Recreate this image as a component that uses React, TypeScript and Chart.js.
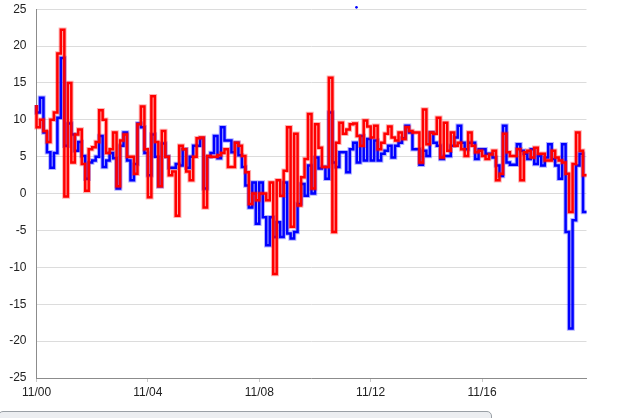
import { useEffect, useRef } from "react"
import { Chart, registerables } from "chart.js"

Chart.register(...registerables)

// one reading every 3 hours, starting at 11/00
const STEP_DAYS = 1 / 8

const blueValues = [
  12, 11, 13, 8.3, 5.6, 3.5, 5.5, 10.3, 18.4, 6.5, 9.5, 8, 5.8, 7, 5.1, 2,
  4.2, 4.5, 5, 7.8, 3.6, 4.5, 5.5, 4.8, 0.7, 6.5, 8.3, 4.5, 1.8, 4, 9.5, 9,
  5.5, 2.5, 8, 5, 1, 6.8, 5, 3.5, 3.5, 4, 3.8, 6, 3.5, 5, 6.5, 6.5,
  7.5, 0.7, 5, 5.5, 7.8, 4.8, 9, 7.2, 7.2, 5.6, 6.9, 5.2, 3.6, 1.1, -1.9, 1.5,
  -4.1, 1.5, -3.2, -7, -3.2, -5.9, -3.9, -5.9, 1.5, -5.4, -6.1, -5.2, -1.4, 1.3, -0.3, 3.8,
  0, 4.9, 3.4, 3.6, 2, 11, 4.2, 3.6, 5.6, 5.6, 2.9, 6, 6.9, 4.2, 7.8, 4.5,
  7.4, 4.5, 7.2, 4.5, 5.4, 5.8, 6.5, 4.9, 6.5, 6.9, 7.5, 9.2, 8.3, 6, 6, 3.9,
  5.8, 5.1, 8.3, 6.9, 6.5, 4.7, 5.1, 5.1, 6.5, 7.6, 9.2, 6.9, 6, 6.9, 6.9, 4.7,
  6, 6, 5.4, 5.4, 4.9, 3.8, 2.4, 9.2, 4.2, 3.9, 3.9, 6.7, 5.8, 5.4, 4.7, 6,
  4, 5.1, 3.8, 4.9, 6.7, 4.7, 3.8, 2, 6.7, -5.2, -18.3, -3.6, 3.8, 5.4, -2.5,
]

const redValues = [
  12, 9, 10, 8.5, 7, 10, 11, 19, 22.2, -0.4, 15, 4.2, 8, 8.7, 4, 0.4,
  6, 6.3, 7, 11.3, 10, 5.5, 6, 8.3, 1, 7.2, 8, 5, 5, 2.7, 9.4, 11.8,
  6, -0.5, 13.2, 7, 1, 8.5, 5, 2.5, 3, -3, 6.5, 6, 3, 1.8, 5, 7.5,
  7.6, -1.9, 5.1, 5, 5, 5.2, 5.5, 6, 3.6, 3.6, 6.9, 6.5, 5.1, 2.9, -1.4, 0,
  -0.9, 0, 0, -0.9, 1.5, -10.9, 1.8, -0.3, 3.1, 9, -4.5, 8.1, -1.6, 2.2, 4.7, 10.8,
  0.7, 9.4, 6.2, 3.6, 3.6, 15.7, -5.2, 6.9, 9.6, 8.1, 8.7, 9.4, 9.5, 7.8, 6.5, 9.9,
  9.1, 7.6, 9.2, 6, 6.9, 8.1, 9.1, 7.6, 7.2, 8.3, 7.4, 9, 8.5, 8.3, 8.3, 4.2,
  11.4, 6.7, 8.3, 8.1, 10.3, 4.9, 9.6, 5.8, 8.3, 6.5, 6.9, 6, 5.1, 8.3, 6.5, 5.6,
  5.8, 5.1, 4.7, 5.3, 5.8, 1.8, 2.7, 8.1, 5.6, 5.1, 5.1, 6, 1.8, 5.6, 5.8, 4.9,
  6.2, 5.4, 5.4, 4.5, 4.5, 5.8, 4.9, 4.5, 4.2, 2.7, -2.5, 4, 8.3, 5.8, 2.5,
]

// lone blue point just above the top gridline
const strayX = [11.49]
const strayY = [25.25]

const xTicks = [0, 4, 8, 12, 16]
const xMax = 19.75

const toPoints = (values: number[]) =>
  values.map((v, i) => ({ x: i * STEP_DAYS, y: v }))

const dayLabel = (v: number) => "11/" + String(v).padStart(2, "0")

export default function App() {
  const chartRef = useRef<HTMLCanvasElement>(null)
  const chartInstance = useRef<Chart | null>(null)

  useEffect(() => {
    if (!chartRef.current) return
    if (chartInstance.current) chartInstance.current.destroy()

    const ctx = chartRef.current.getContext("2d")
    if (!ctx) return

    const blue = toPoints(blueValues)
    const red = toPoints(redValues)
    const line = { pointRadius: 0, tension: 0, stepped: "after" as const, fill: false }

    chartInstance.current = new Chart(ctx, {
      type: "line",
      data: {
        datasets: [
          { ...line, label: "red", data: red, borderColor: "#ff0000", borderWidth: 2.5, order: 0 },
          { ...line, label: "red halo", data: red, borderColor: "rgba(255, 0, 0, 0.3)", borderWidth: 4.5, order: 1 },
          { ...line, label: "blue", data: blue, borderColor: "#0000ff", borderWidth: 2.5, order: 2 },
          { ...line, label: "blue halo", data: blue, borderColor: "rgba(0, 0, 255, 0.3)", borderWidth: 4.5, order: 3 },
          {
            label: "stray",
            data: strayX.map((x, i) => ({ x, y: strayY[i] })),
            showLine: false,
            pointRadius: 1.3,
            pointBackgroundColor: "#0000ff",
            pointBorderWidth: 0,
            order: 4,
          },
        ],
      },
      options: {
        animation: false,
        responsive: true,
        maintainAspectRatio: false,
        clip: false,
        layout: { padding: { left: 0, right: 36.5, top: 0, bottom: 0 } },
        plugins: {
          legend: { display: false },
          tooltip: { enabled: false },
        },
        font: { family: "'Liberation Sans', Arial, sans-serif", size: 12 },
        scales: {
          x: {
            type: "linear",
            min: 0,
            max: xMax,
            afterFit: (scale) => {
              scale.height = 32
            },
            afterBuildTicks: (scale) => {
              scale.ticks = xTicks.map((value) => ({ value }))
            },
            ticks: {
              includeBounds: false,
              padding: 3,
              color: "#222",
              font: { family: "'Liberation Sans', Arial, sans-serif", size: 12 },
              callback: (v) => dayLabel(Number(v)),
              maxRotation: 0,
            },
            grid: { display: true, drawOnChartArea: false, drawTicks: true, tickLength: 4, color: "#c8c8c8" },
            border: { color: "#8c8c8c", width: 1 },
          },
          y: {
            min: -25,
            max: 25,
            afterFit: (scale) => {
              scale.width = 36.5
            },
            ticks: {
              stepSize: 5,
              padding: 10,
              color: "#222",
              font: { family: "'Liberation Sans', Arial, sans-serif", size: 12 },
            },
            grid: { color: "#dcdcdc", drawTicks: false },
            border: { color: "#8c8c8c", width: 1 },
          },
        },
      },
    })

    return () => {
      if (chartInstance.current) {
        chartInstance.current.destroy()
        chartInstance.current = null
      }
    }
  }, [])

  return (
    <>
      <div style={{ position: "absolute", left: 0, top: -8, width: 623, height: 418 }}>
        <canvas ref={chartRef}></canvas>
      </div>
      <div
        style={{
          position: "absolute",
          left: -2,
          top: 411,
          width: 494,
          height: 20,
          boxSizing: "border-box",
          border: "1px solid #9aa0a6",
          borderRadius: 5,
          background: "#eceef1",
        }}
      />
    </>
  )
}
